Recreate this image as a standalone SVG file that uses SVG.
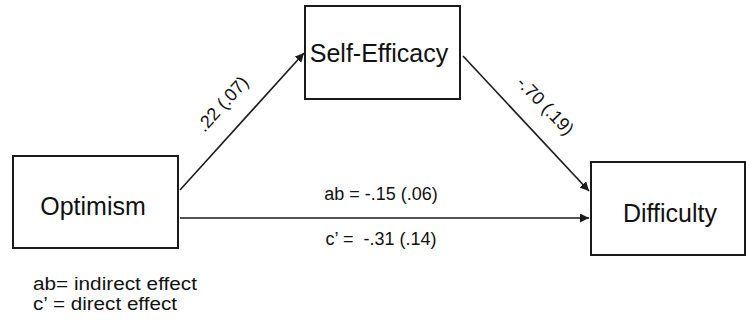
<svg xmlns="http://www.w3.org/2000/svg" width="746" height="323" viewBox="0 0 746 323">
  <style>
    .box { fill: #ffffff; stroke: #1a1a1a; stroke-width: 2; }
    .node-label { font-family: "Liberation Sans", Arial, sans-serif; font-size: 25px; fill: #111111; text-anchor: middle; }
    .edge { stroke: #1a1a1a; stroke-width: 1.6; fill: none; marker-end: url(#arrow); }
    .edge-label { font-family: "Liberation Sans", Arial, sans-serif; font-size: 18px; fill: #111111; text-anchor: middle; white-space: pre; }
    .legend { font-family: "Liberation Sans", Arial, sans-serif; font-size: 17.5px; fill: #111111; white-space: pre; }
  </style>
  <defs>
    <marker id="arrow" viewBox="0 0 10 10" refX="10" refY="5" markerWidth="9" markerHeight="9" markerUnits="userSpaceOnUse" orient="auto">
      <path d="M0,0 L10,5 L0,10 Z" fill="#1a1a1a"/>
    </marker>
  </defs>

  <rect width="746" height="323" fill="#ffffff"/>

  <g id="connectors">
    <line class="edge" x1="180" y1="190" x2="304" y2="53"/>
    <line class="edge" x1="463" y1="56" x2="589" y2="191"/>
    <line class="edge" x1="180" y1="218" x2="589" y2="218"/>
    <text class="edge-label" transform="translate(227,108) rotate(-48)">.22 (.07)</text>
    <text class="edge-label" font-size="19" transform="translate(541,110) rotate(46)">-.70 (.19)</text>
    <text class="edge-label" x="381" y="200">ab = -.15 (.06)</text>
    <text class="edge-label" x="381" y="245">c’ =  -.31 (.14)</text>
  </g>

  <g id="optimism">
    <rect class="box" x="13" y="156" width="165" height="92"/>
    <text class="node-label" x="93" y="215">Optimism</text>
  </g>

  <g id="self-efficacy">
    <rect class="box" x="305" y="6" width="155" height="93"/>
    <text class="node-label" x="379" y="62">Self-Efficacy</text>
  </g>

  <g id="difficulty">
    <rect class="box" x="591" y="162" width="154" height="93"/>
    <text class="node-label" x="670" y="222">Difficulty</text>
  </g>

  <g id="legend">
    <text class="legend" x="33" y="290" textLength="164" lengthAdjust="spacingAndGlyphs">ab= indirect effect</text>
    <text class="legend" x="33" y="310" textLength="144" lengthAdjust="spacingAndGlyphs">c’ = direct effect</text>
  </g>
</svg>
